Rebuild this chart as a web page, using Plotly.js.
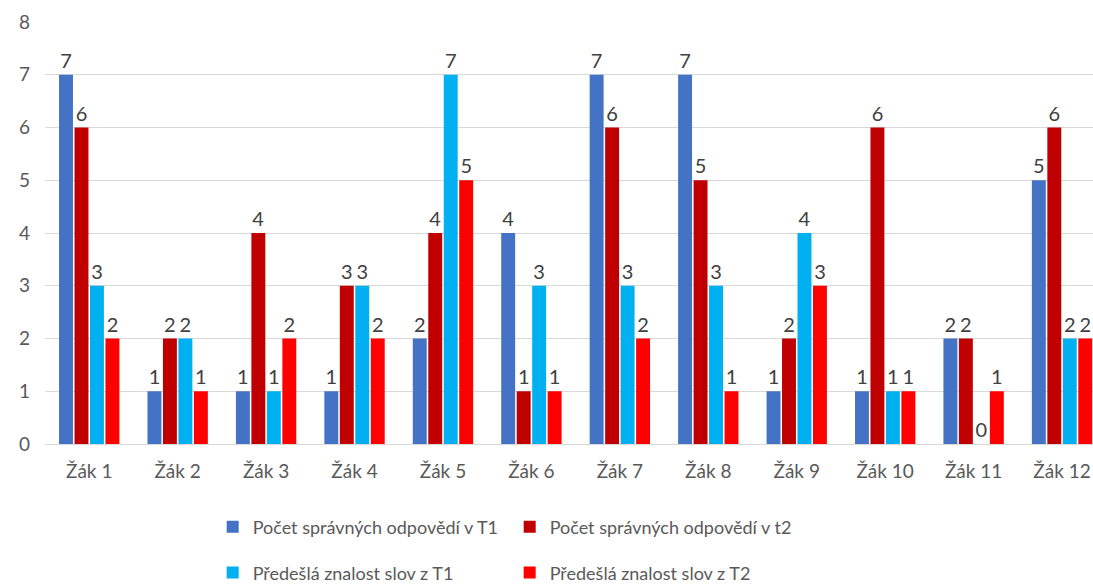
<!DOCTYPE html>
<html>
<head>
<meta charset="utf-8">
<script src="https://cdn.plot.ly/plotly-3.0.1.min.js"></script>
<style>
html,body{margin:0;padding:0;background:#fff;overflow:hidden;}
#chart{width:1093px;height:584px;}
</style>
</head>
<body>
<div id="chart"></div>
<script>
const categories = ["Žák 1","Žák 2","Žák 3","Žák 4","Žák 5","Žák 6","Žák 7","Žák 8","Žák 9","Žák 10","Žák 11","Žák 12"];
const seriesNames = ["Počet správných odpovědí v T1","Počet správných odpovědí v t2","Předešlá znalost slov z T1","Předešlá znalost slov z T2"];
const correctT1 = [7,1,1,1,2,4,7,7,1,1,2,5];
const correctT2 = [6,2,4,3,4,1,6,5,2,6,2,6];
const priorT1 = [3,2,1,3,7,3,3,3,4,1,0,2];
const priorT2 = [2,1,2,2,5,1,2,1,3,1,1,2];
const yTicks = [0,1,2,3,4,5,6,7,8];

const colors = ["#4472C4","#C00000","#00B0F0","#FF0000"];
const values = [correctT1, correctT2, priorT1, priorT2];
const legends = ["legend","legend","legend2","legend2"];
const FONT = "Lato, 'Open Sans', sans-serif";

const traces = values.map((v,i)=>({
  type:'bar',
  name: seriesNames[i],
  x: categories,
  y: v,
  marker:{color:colors[i]},
  text: v.map(String),
  textposition:'outside',
  cliponaxis:false,
  textfont:{family:FONT,size:20,color:'#404040'},
  legend: legends[i],
  hoverinfo:'x+y+name'
}));

const layout = {
  width:1093, height:584,
  margin:{l:45,r:0,t:22,b:140},
  paper_bgcolor:'#fff', plot_bgcolor:'#fff',
  font:{family:FONT,color:'#595959',size:18},
  barmode:'group',
  bargap:0.3,
  bargroupgap:0.1,
  xaxis:{
    type:'category',
    range:[-0.5, 11.35],
    showgrid:false,
    showline:true, linecolor:'#d9d9d9', linewidth:1,
    ticks:'', ticklen:0,
    ticklabelstandoff:10,
    tickfont:{family:FONT,size:19,color:'#595959'},
    automargin:false
  },
  yaxis:{
    range:[0,8],
    tickvals:yTicks,
    ticktext:yTicks.map(String),
    showgrid:true, gridcolor:'#d9d9d9', gridwidth:1,
    zeroline:false,
    showline:false,
    ticks:'',
    ticklabelstandoff:14,
    tickfont:{family:FONT,size:19,color:'#595959'},
    automargin:false
  },
  legend:{
    orientation:'h', yref:'container',
    x:0.160, xanchor:'left', y:0.0976, yanchor:'middle',
    font:{family:FONT,size:18,color:'#595959'},
    entrywidth:252, entrywidthmode:'pixels',
    itemwidth:30, traceorder:'normal', bgcolor:'rgba(0,0,0,0)'
  },
  legend2:{
    orientation:'h', yref:'container',
    x:0.160, xanchor:'left', y:0.019, yanchor:'middle',
    font:{family:FONT,size:18,color:'#595959'},
    entrywidth:252, entrywidthmode:'pixels',
    itemwidth:30, traceorder:'normal', bgcolor:'rgba(0,0,0,0)'
  },
  showlegend:true
};

Plotly.newPlot('chart', traces, layout, {displayModeBar:false, staticPlot:true});
</script>
</body>
</html>
